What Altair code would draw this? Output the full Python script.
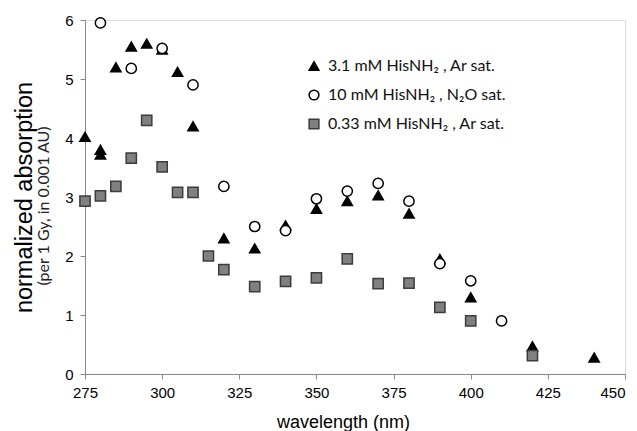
import altair as alt
import pandas as pd

series_names = ["3.1 mM HisNH₂ , Ar sat.", "10 mM HisNH₂ , N₂O sat.", "0.33 mM HisNH₂ , Ar sat."]

tri_x = [275, 280, 280, 285, 290, 295, 300, 305, 310, 320, 330, 340, 350, 360, 370, 380, 390, 400, 420, 440]
tri_y = [4.02, 3.80, 3.72, 5.20, 5.55, 5.60, 5.50, 5.12, 4.20, 2.30, 2.13, 2.52, 2.80, 2.93, 3.03, 2.72, 1.95, 1.30, 0.47, 0.28]

circ_x = [280, 290, 300, 310, 320, 330, 340, 350, 360, 370, 380, 390, 400, 410]
circ_y = [5.95, 5.18, 5.52, 4.90, 3.18, 2.50, 2.43, 2.97, 3.10, 3.23, 2.93, 1.87, 1.58, 0.90]

sq_x = [275, 280, 285, 290, 295, 300, 305, 310, 315, 320, 330, 340, 350, 360, 370, 380, 390, 400, 420]
sq_y = [2.93, 3.02, 3.18, 3.66, 4.30, 3.51, 3.08, 3.08, 2.00, 1.77, 1.48, 1.57, 1.63, 1.95, 1.53, 1.54, 1.13, 0.90, 0.31]

x_ticks = [275, 300, 325, 350, 375, 400, 425, 450]
y_ticks = [0, 1, 2, 3, 4, 5, 6]

rows = []
for xs, ys, name in [(tri_x, tri_y, series_names[0]), (circ_x, circ_y, series_names[1]), (sq_x, sq_y, series_names[2])]:
    for a, b in zip(xs, ys):
        rows.append({"wavelength": a, "absorption": b, "series": name})
df = pd.DataFrame(rows)

FONT = "Lato"
W, H = 540, 354

legend = alt.Legend(
    title=None, orient="none", legendX=221, legendY=38,
    labelFontSize=16, labelFont=FONT, labelColor="#111111", labelLimit=0,
    symbolSize=95, symbolStrokeWidth=1.5, rowPadding=13, labelOffset=6,
)

points = alt.Chart(df).mark_point(size=105, strokeWidth=1.5, opacity=1, filled=False).encode(
    x=alt.X("wavelength:Q", scale=alt.Scale(domain=[275, 450], nice=False, zero=False),
            axis=alt.Axis(values=x_ticks, title="wavelength (nm)", titleX=258, titleY=48,
                          titleBaseline="middle", titleAlign="center", titleFontSize=18,
                          titleFontWeight="normal", labelFlush=False,
                          labelAlign=alt.condition("datum.value == 450", alt.value("right"), alt.value("center")),
                          labelFontSize=15, grid=False, tickSize=5, labelPadding=6)),
    y=alt.Y("absorption:Q", scale=alt.Scale(domain=[0, 6], nice=False),
            axis=alt.Axis(values=y_ticks, title="normalized absorption", titleX=-61, titleY=H / 2,
                          titleAngle=-90, titleBaseline="middle", titleAlign="center",
                          titleFontSize=23.5, titleFontWeight="normal", labelFlush=False,
                          labelFontSize=15, grid=False, tickSize=5, labelPadding=7)),
    shape=alt.Shape("series:N", scale=alt.Scale(domain=series_names, range=["triangle-up", "circle", "square"]), legend=legend),
    fill=alt.Fill("series:N", scale=alt.Scale(domain=series_names, range=["#000000", "#ffffff", "#808080"]), legend=legend),
    stroke=alt.Stroke("series:N", scale=alt.Scale(domain=series_names, range=["#000000", "#000000", "#3c3c3c"]), legend=legend),
)

subtitle = alt.Chart(pd.DataFrame({"t": ["(per 1 Gy, in 0.001 AU)"]})).mark_text(
    angle=270, fontSize=16, font=FONT, baseline="middle", align="center", color="#222222"
).encode(text="t:N", x=alt.value(-41), y=alt.value(H / 2 + 9))

chart = alt.layer(points, subtitle).properties(
    width=W, height=H,
    padding={"left": 77, "top": 12, "right": 4, "bottom": 57},
    autosize=alt.AutoSizeParams(type="none"),
).configure_view(stroke="#b4b4b4", strokeWidth=1).configure_axis(
    domainColor="#b4b4b4", tickColor="#b4b4b4", labelColor="#444444", titleColor="#111111",
    labelFont=FONT, titleFont=FONT,
).configure(background="white")

chart.save("out.html", embed_options={"renderer": "svg", "actions": False})
